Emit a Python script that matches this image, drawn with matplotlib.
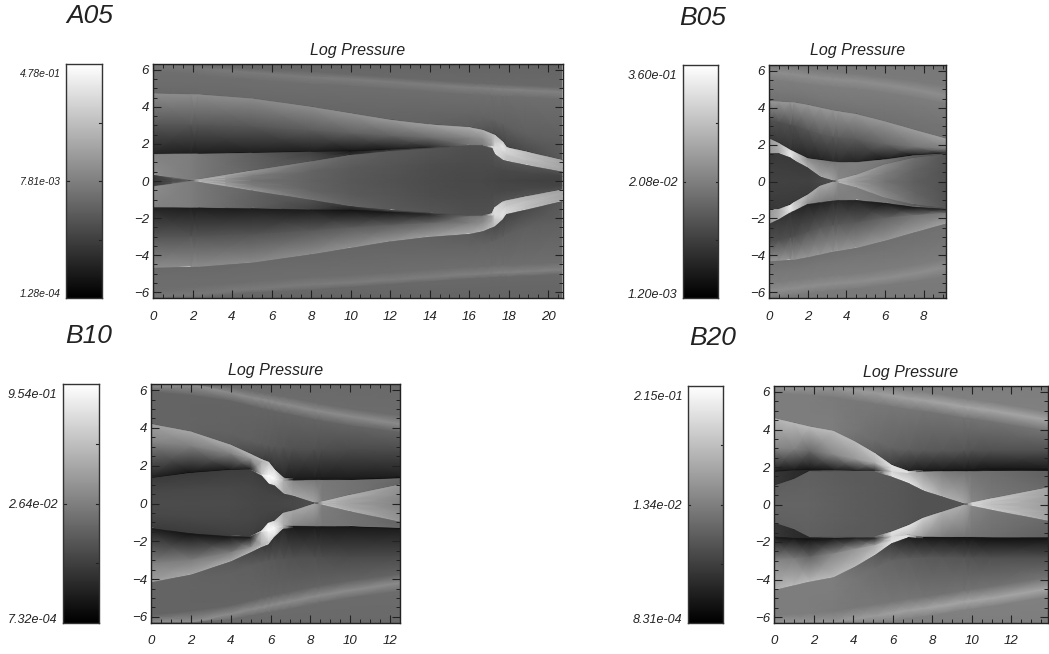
import numpy as np
import matplotlib
matplotlib.use("Agg")
from matplotlib import pyplot as plt

plt.rcParams["font.family"] = ["Liberation Sans", "DejaVu Sans"]
plt.rcParams["font.style"] = "italic"

W, H = 1049, 654

# every field is stored for the upper half (y>0), row by row along features:
# band_up, band, band_down, above, shock, mid, contact, inner
a05_x = [0, 1.9, 2.3, 5, 8, 10, 12, 14, 16, 16.7, 17.15, 17.3, 17.7, 17.9, 18.9, 20.7]
a05_y = [
    [6.32, 6.32, 6.32, 6.05, 5.9, 5.75, 5.6, 5.45, 5.3, 5.27, 5.24, 5.22, 5.2, 5.2, 5.15, 5.05],
    [6.28, 6.15, 6.1, 5.85, 5.6, 5.5, 5.35, 5.2, 5.05, 5.02, 4.98, 4.97, 4.95, 4.95, 4.9, 4.8],
    [5.9, 5.75, 5.7, 5.45, 5.2, 5.1, 4.95, 4.8, 4.65, 4.62, 4.58, 4.57, 4.55, 4.55, 4.5, 4.4],
    [5.2, 5.2, 5.2, 4.95, 4.5, 4.2, 3.9, 3.7, 3.55, 3.45, 3.3, 3.25, 3.05, 2.9, 2.5, 2.2],
    [4.72, 4.68, 4.67, 4.45, 4.0, 3.65, 3.3, 3.05, 2.9, 2.75, 2.55, 2.49, 2.12, 1.82, 1.58, 1.13],
    [3.0, 3.0, 3.0, 2.9, 2.7, 2.55, 2.4, 2.3, 2.3, 2.25, 2.2, 2.1, 1.9, 1.65, 1.4, 0.95],
    [1.46, 1.48, 1.48, 1.52, 1.58, 1.6, 1.7, 1.8, 1.93, 1.93, 1.9, 1.85, 1.6, 1.4, 1.1, 0.7],
    [0.32, 0.05, 0.08, 0.55, 1.05, 1.4, 1.6, 1.74, 1.88, 1.88, 1.78, 1.45, 1.14, 1.08, 0.86, 0.5],
]
a05_gray = [
    [100, 100, 100, 100, 100, 100, 100, 100, 100, 100, 100, 100, 100, 100, 100, 100],
    [105, 105, 105, 105, 105, 105, 105, 105, 105, 105, 105, 105, 105, 105, 105, 105],
    [118, 120, 120, 122, 124, 125, 125, 126, 128, 128, 128, 130, 130, 130, 130, 130],
    [110, 110, 110, 110, 110, 110, 110, 110, 110, 110, 110, 110, 110, 110, 110, 110],
    [108, 108, 108, 108, 106, 105, 104, 102, 100, 100, 98, 98, 96, 95, 95, 95],
    [105, 105, 105, 105, 103, 102, 100, 98, 92, 85, 78, 75, 70, 68, 75, 88],
    [140, 140, 140, 138, 140, 145, 150, 158, 170, 175, 185, 190, 200, 210, 190, 165],
    [85, 85, 85, 85, 90, 95, 95, 105, 130, 140, 170, 200, 230, 215, 190, 165],
    [35, 30, 30, 30, 28, 20, 25, 40, 115, 125, 160, 220, 220, 205, 190, 165],
    [130, 125, 120, 95, 65, 30, 50, 70, 85, 95, 220, 220, 215, 200, 185, 165],
    [140, 125, 120, 100, 80, 50, 70, 75, 82, 85, 200, 220, 200, 190, 180, 160],
    [60, 120, 180, 150, 115, 100, 90, 85, 80, 80, 82, 85, 85, 85, 85, 80],
    [55, 100, 180, 125, 100, 90, 85, 78, 75, 75, 75, 75, 72, 72, 72, 68],
    [55, 100, 180, 115, 98, 88, 82, 76, 72, 72, 70, 70, 68, 68, 66, 65],
]

b05_x = [0, 0.5, 1.1, 1.3, 2, 2.65, 3.3, 3.6, 4.5, 6, 7.5, 9.15]
b05_y = [
    [6.32, 6.28, 6.22, 6.2, 6.1, 6.02, 5.95, 5.92, 5.85, 5.65, 5.45, 5.2],
    [5.95, 5.9, 5.83, 5.8, 5.7, 5.62, 5.55, 5.52, 5.45, 5.25, 5.0, 4.65],
    [5.5, 5.45, 5.38, 5.35, 5.25, 5.17, 5.1, 5.07, 5.0, 4.8, 4.55, 4.2],
    [4.8, 4.75, 4.7, 4.7, 4.55, 4.4, 4.3, 4.25, 4.1, 3.75, 3.35, 2.95],
    [4.36, 4.33, 4.29, 4.28, 4.15, 4.0, 3.85, 3.8, 3.65, 3.25, 2.8, 2.32],
    [3.3, 3.2, 3.05, 3.0, 2.75, 2.55, 2.4, 2.35, 2.25, 2.0, 1.85, 1.75],
    [2.34, 2.09, 1.72, 1.62, 1.26, 1.17, 1.08, 1.05, 1.05, 1.2, 1.42, 1.52],
    [1.53, 1.53, 1.3, 1.15, 0.75, 0.26, 0.05, 0.1, 0.35, 0.92, 1.28, 1.48],
]
b05_gray = [
    [120, 120, 120, 120, 120, 120, 120, 120, 120, 120, 120, 120],
    [122, 122, 122, 122, 122, 122, 122, 122, 122, 122, 122, 122],
    [142, 142, 142, 142, 142, 142, 142, 142, 142, 142, 142, 142],
    [125, 125, 125, 125, 125, 125, 125, 125, 125, 125, 125, 125],
    [118, 118, 118, 118, 118, 118, 118, 118, 118, 116, 115, 115],
    [112, 112, 112, 112, 112, 112, 112, 112, 112, 112, 112, 112],
    [150, 150, 150, 150, 150, 150, 150, 150, 150, 150, 155, 160],
    [80, 80, 80, 80, 85, 90, 90, 90, 90, 100, 115, 125],
    [60, 55, 50, 45, 35, 35, 40, 40, 35, 25, 25, 40],
    [155, 175, 225, 215, 140, 125, 120, 125, 128, 120, 95, 90],
    [150, 170, 235, 200, 175, 165, 165, 135, 125, 115, 90, 70],
    [55, 58, 58, 58, 60, 68, 78, 185, 165, 140, 110, 85],
    [62, 62, 62, 62, 62, 70, 78, 180, 155, 125, 100, 82],
    [65, 65, 65, 65, 65, 72, 78, 178, 150, 115, 95, 82],
]

b10_x = [0, 2, 4, 5, 5.55, 5.9, 6.2, 6.65, 7.15, 8.2, 8.6, 10, 12.5]
b10_y = [
    [6.32, 6.32, 6.15, 5.95, 5.85, 5.78, 5.72, 5.65, 5.55, 5.33, 5.25, 5.0, 4.65],
    [6.32, 6.3, 5.85, 5.6, 5.5, 5.42, 5.35, 5.25, 5.15, 4.92, 4.85, 4.6, 4.2],
    [5.9, 5.7, 5.4, 5.15, 5.0, 4.92, 4.85, 4.75, 4.65, 4.42, 4.35, 4.1, 3.75],
    [4.7, 4.35, 3.7, 3.3, 3.15, 3.05, 3.0, 2.95, 2.9, 2.85, 2.85, 2.85, 2.8],
    [4.2, 3.8, 3.1, 2.62, 2.34, 2.2, 1.8, 1.36, 1.32, 1.33, 1.33, 1.33, 1.41],
    [3.2, 3.0, 2.6, 2.35, 2.2, 2.05, 1.72, 1.31, 1.28, 1.29, 1.29, 1.29, 1.37],
    [1.34, 1.62, 1.78, 1.8, 1.53, 1.5, 1.3, 1.2, 1.22, 1.25, 1.25, 1.25, 1.33],
    [1.28, 1.56, 1.72, 1.75, 1.47, 1.05, 0.95, 0.52, 0.4, 0.04, 0.1, 0.45, 1.0],
]
b10_gray = [
    [105, 105, 105, 105, 105, 105, 105, 105, 105, 105, 105, 105, 105],
    [108, 108, 108, 108, 108, 108, 108, 108, 108, 108, 108, 108, 108],
    [145, 145, 140, 140, 140, 140, 140, 140, 140, 140, 140, 140, 140],
    [100, 100, 100, 100, 100, 100, 100, 100, 100, 100, 100, 100, 100],
    [100, 100, 98, 95, 92, 90, 88, 85, 82, 80, 78, 75, 75],
    [100, 100, 90, 72, 62, 55, 48, 38, 28, 28, 28, 28, 30],
    [160, 165, 170, 180, 190, 200, 215, 170, 30, 28, 28, 28, 28],
    [130, 125, 125, 150, 175, 200, 225, 175, 28, 27, 27, 27, 27],
    [30, 20, 25, 30, 200, 245, 250, 180, 25, 22, 22, 20, 18],
    [60, 60, 60, 65, 230, 255, 245, 175, 135, 120, 120, 115, 105],
    [60, 60, 62, 65, 220, 235, 210, 170, 165, 165, 125, 115, 100],
    [60, 60, 62, 62, 60, 62, 62, 65, 70, 80, 190, 175, 150],
    [72, 72, 72, 70, 68, 68, 68, 70, 72, 80, 185, 165, 140],
    [75, 75, 75, 72, 70, 70, 70, 72, 72, 78, 185, 160, 130],
]

b20_x = [0, 1, 1.8, 3, 4.1, 5.1, 5.95, 6.8, 7.55, 8.5, 9.6, 10, 11, 13.85]
b20_y = [
    [6.32, 6.32, 6.32, 6.32, 6.32, 6.32, 6.25, 6.1, 6.0, 5.85, 5.65, 5.6, 5.45, 4.95],
    [6.32, 6.32, 6.32, 6.3, 6.1, 5.95, 5.8, 5.65, 5.55, 5.4, 5.2, 5.15, 5.0, 4.5],
    [5.9, 5.85, 5.8, 5.7, 5.5, 5.35, 5.2, 5.05, 4.95, 4.8, 4.6, 4.55, 4.4, 3.9],
    [5.1, 4.85, 4.65, 4.45, 3.95, 3.4, 3.0, 2.9, 2.85, 2.85, 2.85, 2.85, 2.85, 2.85],
    [4.6, 4.35, 4.15, 3.92, 3.35, 2.73, 2.1, 1.78, 1.84, 1.86, 1.86, 1.86, 1.89, 1.89],
    [3.0, 2.9, 2.8, 2.65, 2.4, 2.2, 1.95, 1.72, 1.8, 1.81, 1.81, 1.81, 1.83, 1.83],
    [1.75, 1.82, 1.85, 1.82, 1.8, 1.8, 1.75, 1.68, 1.76, 1.78, 1.78, 1.78, 1.8, 1.8],
    [1.0, 1.35, 1.78, 1.76, 1.75, 1.74, 1.48, 1.14, 0.74, 0.42, 0.05, 0.1, 0.32, 0.9],
]
b20_gray = [
    [125, 125, 125, 125, 125, 125, 125, 125, 125, 125, 125, 125, 125, 125],
    [128, 128, 128, 128, 128, 128, 128, 128, 128, 128, 128, 128, 128, 128],
    [150, 150, 150, 150, 155, 155, 160, 160, 162, 165, 165, 165, 165, 165],
    [125, 125, 125, 122, 120, 120, 118, 118, 116, 115, 115, 115, 115, 115],
    [125, 125, 125, 125, 118, 108, 100, 95, 90, 88, 85, 82, 80, 80],
    [125, 125, 125, 125, 110, 92, 60, 30, 28, 28, 25, 25, 22, 25],
    [180, 185, 185, 185, 185, 200, 225, 215, 30, 28, 25, 25, 22, 25],
    [135, 125, 100, 135, 150, 170, 225, 225, 28, 26, 25, 25, 22, 22],
    [25, 22, 18, 25, 32, 38, 215, 225, 25, 22, 20, 20, 15, 15],
    [55, 45, 40, 85, 90, 95, 215, 190, 150, 125, 115, 115, 110, 95],
    [55, 45, 40, 85, 90, 95, 225, 230, 205, 175, 170, 135, 120, 105],
    [95, 95, 95, 92, 90, 90, 88, 85, 82, 82, 85, 215, 200, 165],
    [98, 98, 98, 95, 92, 90, 88, 85, 82, 82, 85, 215, 195, 160],
    [100, 100, 100, 96, 92, 90, 88, 85, 82, 82, 85, 215, 190, 155],
]

a05_cbar = ["1.28e-04", "7.81e-03", "4.78e-01"]
b05_cbar = ["1.20e-03", "2.08e-02", "3.60e-01"]
b10_cbar = ["7.32e-04", "2.64e-02", "9.54e-01"]
b20_cbar = ["8.31e-04", "1.34e-02", "2.15e-01"]


def px_axes(left, right, top, bottom):
    return fig.add_axes([left / W, 1 - bottom / H, (right - left) / W, (bottom - top) / H])


def field(ax, x, y, gray):
    # rebuild the level rows (doubling sharp fronts) and mirror to the lower half
    band_up, band, band_down, above, shock, mid, contact, inner = [np.array(r, float) for r in y]
    top = np.full_like(shock, 6.4)
    rows = [top, band_up, band, band_down, above, shock, shock - 0.03, mid, contact,
            contact - 0.04, inner, inner - 0.03, (inner - 0.03) / 2, np.zeros_like(shock)]
    upper = np.array(rows)
    g = np.array(gray, float)
    yy = np.vstack([upper, -upper[-2::-1]])
    zz = np.vstack([g, g[-2::-1]])
    xx = np.tile(np.array(x, float), (yy.shape[0], 1))
    ax.pcolormesh(xx, yy, zz, shading="gouraud", cmap="gray", vmin=0, vmax=255)


def panel(name, name_xy, box, cbox, xmax, x, y, gray, cbar_labels, cbar_size, title_y):
    ax = px_axes(*box)
    field(ax, x, y, gray)
    ax.set_xlim(0, xmax)
    ax.set_ylim(-6.32, 6.32)
    ax.set_xticks(np.arange(0, xmax, 2))
    ax.set_yticks(np.arange(-6, 7, 2))
    ax.set_xticks(np.arange(0, xmax, 0.5), minor=True)
    ax.set_yticks(np.arange(-6, 6.5, 0.5), minor=True)
    ax.tick_params(which="major", direction="in", top=True, right=True, length=5.5, width=0.8, labelsize=9.5, colors="#222222")
    ax.tick_params(which="minor", direction="in", top=True, right=True, length=2.8, width=0.7, color="#222222")
    ax.tick_params(axis="x", pad=9)
    ax.tick_params(axis="y", pad=3)
    for s in ax.spines.values():
        s.set_linewidth(1.0)
        s.set_color("#222222")
    fig.text((box[0] + box[1]) / 2 / W, 1 - title_y / H, "Log Pressure", ha="center", va="center", fontsize=11.5, color="#222222")
    fig.text(name_xy[0] / W, 1 - name_xy[1] / H, name, ha="left", va="center", fontsize=19, color="#222222")

    cax = px_axes(*cbox)
    cax.imshow(np.linspace(0, 1, 256).reshape(-1, 1), cmap="gray", origin="lower", aspect="auto", extent=[0, 1, 0, 1])
    cax.set_xticks([])
    cax.set_yticks([0.02, 0.5, 0.96])
    cax.set_yticklabels(cbar_labels)
    cax.tick_params(axis="y", length=0, pad=4, labelsize=cbar_size, colors="#222222")
    for v in [0.25, 0.5, 0.75]:
        cax.plot([0.93, 1], [v, v], color="#222222", lw=0.8)
    cax.plot([0, 0.07], [0.5, 0.5], color="#222222", lw=0.8)
    cax.set_xlim(0, 1)
    cax.set_ylim(0, 1)
    for s in cax.spines.values():
        s.set_linewidth(1.0)
        s.set_color("#333333")


fig = plt.figure(figsize=(W / 100, H / 100), dpi=100, facecolor="white")

panel("A05", (66, 16), (153, 563, 64, 298), (66, 102, 64, 298), 20.75, a05_x, a05_y, a05_gray, a05_cbar, 7.5, 51)
panel("B05", (679, 18), (769, 946, 65, 298), (683, 718, 65, 298), 9.15, b05_x, b05_y, b05_gray, b05_cbar, 9, 51)
panel("B10", (65, 336), (151, 400, 384, 623), (63, 99, 384, 623), 12.5, b10_x, b10_y, b10_gray, b10_cbar, 9, 370)
panel("B20", (689, 338), (774, 1048, 386, 623), (688, 723, 386, 623), 13.85, b20_x, b20_y, b20_gray, b20_cbar, 9, 372)

fig.savefig("out.png", dpi=100)
